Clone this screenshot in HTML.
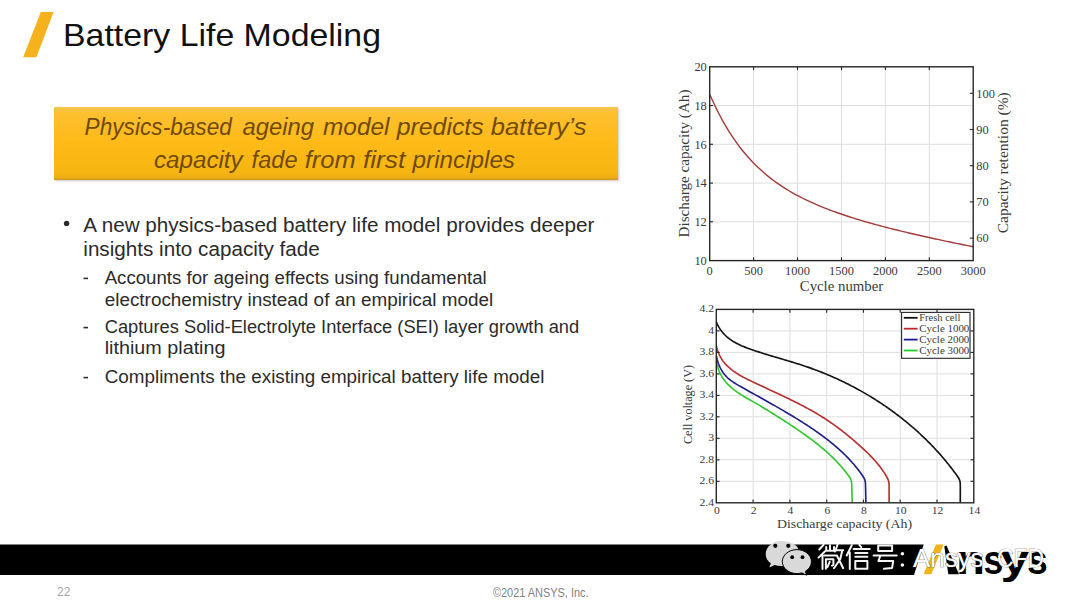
<!DOCTYPE html>
<html><head><meta charset="utf-8"><style>
html,body{margin:0;padding:0;background:#fff;width:1080px;height:608px;overflow:hidden;}
svg{display:block;}
</style></head><body>
<svg width="1080" height="608" viewBox="0 0 1080 608">
<rect width="1080" height="608" fill="#fff"/>
<polygon points="40.8,12 53.6,12 36.4,57.2 23.2,57.2" fill="#F6B21C"/>
<text x="63" y="46" font-family='"Liberation Sans", sans-serif' font-size="31.5" fill="#111" textLength="318" lengthAdjust="spacingAndGlyphs">Battery Life Modeling</text>
<defs><linearGradient id="og" x1="0" y1="0" x2="0" y2="1"><stop offset="0" stop-color="#F8C452"/><stop offset="0.08" stop-color="#FDC030"/><stop offset="0.5" stop-color="#FFBA17"/><stop offset="0.9" stop-color="#F6B512"/><stop offset="0.97" stop-color="#EDAE16"/><stop offset="1" stop-color="#C9961E"/></linearGradient><filter id="sh" x="-5%" y="-20%" width="110%" height="140%"><feGaussianBlur stdDeviation="1.2"/></filter></defs>
<rect x="55" y="109" width="564" height="72" fill="#a0a0a0" opacity="0.6" filter="url(#sh)"/>
<rect x="54" y="107" width="564" height="73" fill="url(#og)"/>
<text x="84.6" y="135.3" font-family='"Liberation Sans", sans-serif' font-style="italic" font-size="23" fill="#704A0A" textLength="147.3" lengthAdjust="spacingAndGlyphs">Physics-based</text>
<text x="242.5" y="135.3" font-family='"Liberation Sans", sans-serif' font-style="italic" font-size="23" fill="#704A0A" textLength="71.6" lengthAdjust="spacingAndGlyphs">ageing</text>
<text x="323.0" y="135.3" font-family='"Liberation Sans", sans-serif' font-style="italic" font-size="23" fill="#704A0A" textLength="66.5" lengthAdjust="spacingAndGlyphs">model</text>
<text x="396.7" y="135.3" font-family='"Liberation Sans", sans-serif' font-style="italic" font-size="23" fill="#704A0A" textLength="87.0" lengthAdjust="spacingAndGlyphs">predicts</text>
<text x="490.8" y="135.3" font-family='"Liberation Sans", sans-serif' font-style="italic" font-size="23" fill="#704A0A" textLength="95.7" lengthAdjust="spacingAndGlyphs">battery’s</text>
<text x="153.9" y="167.8" font-family='"Liberation Sans", sans-serif' font-style="italic" font-size="23" fill="#704A0A" textLength="88.8" lengthAdjust="spacingAndGlyphs">capacity</text>
<text x="251.6" y="167.8" font-family='"Liberation Sans", sans-serif' font-style="italic" font-size="23" fill="#704A0A" textLength="45.9" lengthAdjust="spacingAndGlyphs">fade</text>
<text x="304.7" y="167.8" font-family='"Liberation Sans", sans-serif' font-style="italic" font-size="23" fill="#704A0A" textLength="51.0" lengthAdjust="spacingAndGlyphs">from</text>
<text x="362.9" y="167.8" font-family='"Liberation Sans", sans-serif' font-style="italic" font-size="23" fill="#704A0A" textLength="42.5" lengthAdjust="spacingAndGlyphs">first</text>
<text x="412.6" y="167.8" font-family='"Liberation Sans", sans-serif' font-style="italic" font-size="23" fill="#704A0A" textLength="102.4" lengthAdjust="spacingAndGlyphs">principles</text>
<circle cx="66.6" cy="223.4" r="2.7" fill="#2b2b2b"/>
<text x="83.3" y="231.9" font-family='"Liberation Sans", sans-serif' font-size="20" fill="#2b2b2b" textLength="511" lengthAdjust="spacingAndGlyphs">A new physics-based battery life model provides deeper</text>
<text x="83.3" y="255.6" font-family='"Liberation Sans", sans-serif' font-size="20" fill="#2b2b2b" textLength="236.5" lengthAdjust="spacingAndGlyphs">insights into capacity fade</text>
<rect x="83.5" y="277.6" width="4.5" height="1.6" fill="#2b2b2b"/>
<text x="104.7" y="283.6" font-family='"Liberation Sans", sans-serif' font-size="17.5" fill="#2b2b2b" textLength="382" lengthAdjust="spacingAndGlyphs">Accounts for ageing effects using fundamental</text>
<text x="104.7" y="305.8" font-family='"Liberation Sans", sans-serif' font-size="17.5" fill="#2b2b2b" textLength="388.5" lengthAdjust="spacingAndGlyphs">electrochemistry instead of an empirical model</text>
<rect x="83.5" y="326.8" width="4.5" height="1.6" fill="#2b2b2b"/>
<text x="104.7" y="332.8" font-family='"Liberation Sans", sans-serif' font-size="17.5" fill="#2b2b2b" textLength="474.5" lengthAdjust="spacingAndGlyphs">Captures Solid-Electrolyte Interface (SEI) layer growth and</text>
<text x="104.7" y="354.4" font-family='"Liberation Sans", sans-serif' font-size="17.5" fill="#2b2b2b" textLength="120.8" lengthAdjust="spacingAndGlyphs">lithium plating</text>
<rect x="83.5" y="376.8" width="4.5" height="1.6" fill="#2b2b2b"/>
<text x="104.7" y="382.8" font-family='"Liberation Sans", sans-serif' font-size="17.5" fill="#2b2b2b" textLength="439.8" lengthAdjust="spacingAndGlyphs">Compliments the existing empirical battery life model</text>
<line x1="753.6" y1="66.8" x2="753.6" y2="260.6" stroke="#dedede" stroke-width="1"/>
<line x1="797.5" y1="66.8" x2="797.5" y2="260.6" stroke="#dedede" stroke-width="1"/>
<line x1="841.5" y1="66.8" x2="841.5" y2="260.6" stroke="#dedede" stroke-width="1"/>
<line x1="885.4" y1="66.8" x2="885.4" y2="260.6" stroke="#dedede" stroke-width="1"/>
<line x1="929.3" y1="66.8" x2="929.3" y2="260.6" stroke="#dedede" stroke-width="1"/>
<line x1="709.7" y1="221.8" x2="973.2" y2="221.8" stroke="#dedede" stroke-width="1"/>
<line x1="709.7" y1="183.1" x2="973.2" y2="183.1" stroke="#dedede" stroke-width="1"/>
<line x1="709.7" y1="144.3" x2="973.2" y2="144.3" stroke="#dedede" stroke-width="1"/>
<line x1="709.7" y1="105.6" x2="973.2" y2="105.6" stroke="#dedede" stroke-width="1"/>
<path d="M709.70,94.16 L711.91,99.19 L714.13,104.00 L716.34,108.61 L718.56,113.02 L720.77,117.24 L722.99,121.29 L725.20,125.17 L727.41,128.89 L729.63,132.45 L731.84,135.87 L734.06,139.15 L736.27,142.30 L738.49,145.33 L740.70,148.23 L742.91,151.02 L745.13,153.70 L747.34,156.28 L749.56,158.76 L751.77,161.15 L753.99,163.45 L756.20,165.66 L758.41,167.79 L760.63,169.85 L762.84,171.83 L765.06,173.74 L767.27,175.59 L769.49,177.37 L771.70,179.09 L773.91,180.76 L776.13,182.37 L778.34,183.93 L780.56,185.44 L782.77,186.90 L784.99,188.31 L787.20,189.69 L789.41,191.02 L791.63,192.31 L793.84,193.57 L796.06,194.79 L798.27,195.98 L800.49,197.13 L802.70,198.25 L804.91,199.35 L807.13,200.41 L809.34,201.45 L811.56,202.47 L813.77,203.46 L815.99,204.42 L818.20,205.37 L820.41,206.29 L822.63,207.19 L824.84,208.07 L827.06,208.94 L829.27,209.79 L831.49,210.62 L833.70,211.43 L835.91,212.23 L838.13,213.01 L840.34,213.78 L842.56,214.53 L844.77,215.28 L846.99,216.01 L849.20,216.73 L851.41,217.43 L853.63,218.13 L855.84,218.81 L858.06,219.49 L860.27,220.15 L862.49,220.81 L864.70,221.46 L866.91,222.10 L869.13,222.73 L871.34,223.35 L873.56,223.96 L875.77,224.57 L877.99,225.17 L880.20,225.77 L882.41,226.35 L884.63,226.93 L886.84,227.51 L889.06,228.08 L891.27,228.64 L893.49,229.20 L895.70,229.75 L897.91,230.30 L900.13,230.84 L902.34,231.38 L904.56,231.91 L906.77,232.44 L908.99,232.97 L911.20,233.49 L913.41,234.00 L915.63,234.51 L917.84,235.02 L920.06,235.53 L922.27,236.03 L924.49,236.52 L926.70,237.02 L928.91,237.51 L931.13,237.99 L933.34,238.48 L935.56,238.96 L937.77,239.44 L939.99,239.91 L942.20,240.38 L944.41,240.85 L946.63,241.32 L948.84,241.78 L951.06,242.24 L953.27,242.70 L955.49,243.15 L957.70,243.60 L959.91,244.05 L962.13,244.50 L964.34,244.94 L966.56,245.39 L968.77,245.83 L970.99,246.26 L973.20,246.70" fill="none" stroke="#A33C3C" stroke-width="1.4"/>
<line x1="753.6" y1="260.6" x2="753.6" y2="257.3" stroke="#262626" stroke-width="1.1"/>
<line x1="753.6" y1="66.8" x2="753.6" y2="70.1" stroke="#262626" stroke-width="1.1"/>
<line x1="797.5" y1="260.6" x2="797.5" y2="257.3" stroke="#262626" stroke-width="1.1"/>
<line x1="797.5" y1="66.8" x2="797.5" y2="70.1" stroke="#262626" stroke-width="1.1"/>
<line x1="841.5" y1="260.6" x2="841.5" y2="257.3" stroke="#262626" stroke-width="1.1"/>
<line x1="841.5" y1="66.8" x2="841.5" y2="70.1" stroke="#262626" stroke-width="1.1"/>
<line x1="885.4" y1="260.6" x2="885.4" y2="257.3" stroke="#262626" stroke-width="1.1"/>
<line x1="885.4" y1="66.8" x2="885.4" y2="70.1" stroke="#262626" stroke-width="1.1"/>
<line x1="929.3" y1="260.6" x2="929.3" y2="257.3" stroke="#262626" stroke-width="1.1"/>
<line x1="929.3" y1="66.8" x2="929.3" y2="70.1" stroke="#262626" stroke-width="1.1"/>
<line x1="709.7" y1="221.8" x2="713.0" y2="221.8" stroke="#262626" stroke-width="1.1"/>
<line x1="709.7" y1="183.1" x2="713.0" y2="183.1" stroke="#262626" stroke-width="1.1"/>
<line x1="709.7" y1="144.3" x2="713.0" y2="144.3" stroke="#262626" stroke-width="1.1"/>
<line x1="709.7" y1="105.6" x2="713.0" y2="105.6" stroke="#262626" stroke-width="1.1"/>
<line x1="973.2" y1="238.1" x2="969.9000000000001" y2="238.1" stroke="#262626" stroke-width="1.1"/>
<line x1="973.2" y1="201.9" x2="969.9000000000001" y2="201.9" stroke="#262626" stroke-width="1.1"/>
<line x1="973.2" y1="165.7" x2="969.9000000000001" y2="165.7" stroke="#262626" stroke-width="1.1"/>
<line x1="973.2" y1="129.5" x2="969.9000000000001" y2="129.5" stroke="#262626" stroke-width="1.1"/>
<line x1="973.2" y1="93.3" x2="969.9000000000001" y2="93.3" stroke="#262626" stroke-width="1.1"/>
<rect x="709.7" y="66.8" width="263.5" height="193.8" fill="none" stroke="#262626" stroke-width="1.4"/>
<text x="706.8" y="264.9" text-anchor="end" font-family='"Liberation Serif", serif' font-size="13" fill="#3a3a3a" textLength="12.4" lengthAdjust="spacingAndGlyphs">10</text>
<text x="706.8" y="226.1" text-anchor="end" font-family='"Liberation Serif", serif' font-size="13" fill="#3a3a3a" textLength="12.4" lengthAdjust="spacingAndGlyphs">12</text>
<text x="706.8" y="187.4" text-anchor="end" font-family='"Liberation Serif", serif' font-size="13" fill="#3a3a3a" textLength="12.4" lengthAdjust="spacingAndGlyphs">14</text>
<text x="706.8" y="148.6" text-anchor="end" font-family='"Liberation Serif", serif' font-size="13" fill="#3a3a3a" textLength="12.4" lengthAdjust="spacingAndGlyphs">16</text>
<text x="706.8" y="109.9" text-anchor="end" font-family='"Liberation Serif", serif' font-size="13" fill="#3a3a3a" textLength="12.4" lengthAdjust="spacingAndGlyphs">18</text>
<text x="706.8" y="71.1" text-anchor="end" font-family='"Liberation Serif", serif' font-size="13" fill="#3a3a3a" textLength="12.4" lengthAdjust="spacingAndGlyphs">20</text>
<text x="709.7" y="274.8" text-anchor="middle" font-family='"Liberation Serif", serif' font-size="13" fill="#3a3a3a" textLength="6.2" lengthAdjust="spacingAndGlyphs">0</text>
<text x="753.6" y="274.8" text-anchor="middle" font-family='"Liberation Serif", serif' font-size="13" fill="#3a3a3a" textLength="18.6" lengthAdjust="spacingAndGlyphs">500</text>
<text x="797.5" y="274.8" text-anchor="middle" font-family='"Liberation Serif", serif' font-size="13" fill="#3a3a3a" textLength="24.8" lengthAdjust="spacingAndGlyphs">1000</text>
<text x="841.5" y="274.8" text-anchor="middle" font-family='"Liberation Serif", serif' font-size="13" fill="#3a3a3a" textLength="24.8" lengthAdjust="spacingAndGlyphs">1500</text>
<text x="885.4" y="274.8" text-anchor="middle" font-family='"Liberation Serif", serif' font-size="13" fill="#3a3a3a" textLength="24.8" lengthAdjust="spacingAndGlyphs">2000</text>
<text x="929.3" y="274.8" text-anchor="middle" font-family='"Liberation Serif", serif' font-size="13" fill="#3a3a3a" textLength="24.8" lengthAdjust="spacingAndGlyphs">2500</text>
<text x="973.2" y="274.8" text-anchor="middle" font-family='"Liberation Serif", serif' font-size="13" fill="#3a3a3a" textLength="24.8" lengthAdjust="spacingAndGlyphs">3000</text>
<text x="976.3" y="242.4" font-family='"Liberation Serif", serif' font-size="13" fill="#3a3a3a" textLength="12.4" lengthAdjust="spacingAndGlyphs">60</text>
<text x="976.3" y="206.2" font-family='"Liberation Serif", serif' font-size="13" fill="#3a3a3a" textLength="12.4" lengthAdjust="spacingAndGlyphs">70</text>
<text x="976.3" y="170.0" font-family='"Liberation Serif", serif' font-size="13" fill="#3a3a3a" textLength="12.4" lengthAdjust="spacingAndGlyphs">80</text>
<text x="976.3" y="133.8" font-family='"Liberation Serif", serif' font-size="13" fill="#3a3a3a" textLength="12.4" lengthAdjust="spacingAndGlyphs">90</text>
<text x="976.3" y="97.6" font-family='"Liberation Serif", serif' font-size="13" fill="#3a3a3a" textLength="18.6" lengthAdjust="spacingAndGlyphs">100</text>
<text x="841.5" y="291" text-anchor="middle" font-family='"Liberation Serif", serif' font-size="14" fill="#3a3a3a" textLength="83.5" lengthAdjust="spacingAndGlyphs">Cycle number</text>
<text transform="translate(688.5,163.5) rotate(-90)" x="0" y="0" text-anchor="middle" font-family='"Liberation Serif", serif' font-size="14" fill="#3a3a3a" textLength="148" lengthAdjust="spacingAndGlyphs">Discharge capacity (Ah)</text>
<text transform="translate(1008.3,162.8) rotate(-90)" x="0" y="0" text-anchor="middle" font-family='"Liberation Serif", serif' font-size="14.5" fill="#3a3a3a" textLength="141" lengthAdjust="spacingAndGlyphs">Capacity retention (%)</text>
<line x1="753.1" y1="309.4" x2="753.1" y2="502.8" stroke="#dedede" stroke-width="1"/>
<line x1="789.9" y1="309.4" x2="789.9" y2="502.8" stroke="#dedede" stroke-width="1"/>
<line x1="826.7" y1="309.4" x2="826.7" y2="502.8" stroke="#dedede" stroke-width="1"/>
<line x1="863.4" y1="309.4" x2="863.4" y2="502.8" stroke="#dedede" stroke-width="1"/>
<line x1="900.2" y1="309.4" x2="900.2" y2="502.8" stroke="#dedede" stroke-width="1"/>
<line x1="937.0" y1="309.4" x2="937.0" y2="502.8" stroke="#dedede" stroke-width="1"/>
<line x1="716.3" y1="481.3" x2="973.8" y2="481.3" stroke="#dedede" stroke-width="1"/>
<line x1="716.3" y1="459.8" x2="973.8" y2="459.8" stroke="#dedede" stroke-width="1"/>
<line x1="716.3" y1="438.3" x2="973.8" y2="438.3" stroke="#dedede" stroke-width="1"/>
<line x1="716.3" y1="416.8" x2="973.8" y2="416.8" stroke="#dedede" stroke-width="1"/>
<line x1="716.3" y1="395.4" x2="973.8" y2="395.4" stroke="#dedede" stroke-width="1"/>
<line x1="716.3" y1="373.9" x2="973.8" y2="373.9" stroke="#dedede" stroke-width="1"/>
<line x1="716.3" y1="352.4" x2="973.8" y2="352.4" stroke="#dedede" stroke-width="1"/>
<line x1="716.3" y1="330.9" x2="973.8" y2="330.9" stroke="#dedede" stroke-width="1"/>
<path d="M716.50,361.60 L716.77,363.16 L717.07,364.60 L717.43,366.02 L717.84,367.44 L718.31,368.86 L718.82,370.27 L719.39,371.65 L720.00,373.02 L720.67,374.36 L721.38,375.67 L722.15,376.96 L722.96,378.22 L723.81,379.45 L724.71,380.65 L725.65,381.81 L726.62,382.95 L727.63,384.06 L728.68,385.13 L729.75,386.18 L730.85,387.19 L731.98,388.18 L733.14,389.13 L734.31,390.06 L735.51,390.96 L736.73,391.84 L737.96,392.69 L739.21,393.52 L740.47,394.34 L741.74,395.13 L743.02,395.91 L744.31,396.68 L745.61,397.43 L746.91,398.18 L748.21,398.92 L749.51,399.66 L750.82,400.40 L752.12,401.14 L753.43,401.89 L754.73,402.63 L756.03,403.38 L757.32,404.14 L758.61,404.90 L759.91,405.66 L761.19,406.43 L762.48,407.20 L763.76,407.98 L765.05,408.76 L766.33,409.54 L767.60,410.32 L768.88,411.11 L770.16,411.90 L771.43,412.70 L772.70,413.49 L773.97,414.29 L775.24,415.09 L776.51,415.89 L777.77,416.69 L779.04,417.50 L780.31,418.30 L781.57,419.11 L782.83,419.92 L784.09,420.73 L785.36,421.54 L786.61,422.36 L787.87,423.18 L789.13,424.00 L790.38,424.82 L791.64,425.64 L792.89,426.47 L794.14,427.30 L795.38,428.14 L796.63,428.98 L797.87,429.82 L799.10,430.67 L800.34,431.52 L801.57,432.37 L802.80,433.23 L804.03,434.10 L805.25,434.97 L806.47,435.84 L807.68,436.72 L808.89,437.61 L810.10,438.50 L811.30,439.40 L812.50,440.30 L813.69,441.21 L814.87,442.13 L816.06,443.05 L817.23,443.98 L818.40,444.92 L819.57,445.87 L820.73,446.82 L821.88,447.78 L823.02,448.75 L824.16,449.72 L825.30,450.71 L826.42,451.70 L827.54,452.70 L828.65,453.71 L829.75,454.73 L830.84,455.76 L831.92,456.79 L833.00,457.84 L834.06,458.89 L835.12,459.96 L836.17,461.03 L837.20,462.12 L838.23,463.21 L839.25,464.32 L840.25,465.43 L841.24,466.55 L842.22,467.69 L843.19,468.83 L844.15,469.99 L845.09,471.15 L846.02,472.33 L846.94,473.52 L847.84,474.71 L848.72,475.93 L849.56,477.16 L850.31,478.42 L850.91,479.73 L851.32,481.11 L851.56,482.55 L851.68,484.02 L851.74,485.51 L851.79,487.01 L851.83,488.51 L851.86,490.01 L851.90,491.51 L851.94,493.01 L851.98,494.51 L852.02,496.00 L852.06,497.48 L852.10,498.91 L852.13,500.21 L852.16,501.24 L852.19,502.50" fill="none" stroke="#30C830" stroke-width="1.65"/>
<path d="M716.50,356.20 L716.79,357.76 L717.11,359.19 L717.49,360.61 L717.92,362.02 L718.41,363.44 L718.93,364.84 L719.51,366.22 L720.14,367.57 L720.83,368.90 L721.57,370.20 L722.36,371.47 L723.21,372.71 L724.11,373.90 L725.05,375.06 L726.05,376.18 L727.10,377.25 L728.18,378.27 L729.32,379.25 L730.48,380.19 L731.69,381.08 L732.91,381.94 L734.17,382.76 L735.44,383.56 L736.72,384.34 L738.01,385.09 L739.31,385.84 L740.62,386.58 L741.92,387.32 L743.23,388.05 L744.54,388.78 L745.85,389.52 L747.16,390.25 L748.47,390.98 L749.78,391.71 L751.09,392.44 L752.40,393.17 L753.71,393.90 L755.02,394.63 L756.33,395.36 L757.64,396.09 L758.95,396.82 L760.26,397.55 L761.57,398.28 L762.88,399.02 L764.19,399.75 L765.50,400.48 L766.81,401.22 L768.11,401.95 L769.42,402.69 L770.72,403.43 L772.03,404.17 L773.33,404.91 L774.64,405.65 L775.94,406.40 L777.24,407.14 L778.54,407.89 L779.84,408.64 L781.14,409.40 L782.43,410.15 L783.73,410.91 L785.02,411.67 L786.31,412.43 L787.61,413.19 L788.89,413.96 L790.18,414.73 L791.47,415.50 L792.75,416.27 L794.04,417.05 L795.32,417.83 L796.59,418.62 L797.87,419.40 L799.15,420.19 L800.42,420.99 L801.69,421.79 L802.95,422.59 L804.22,423.40 L805.48,424.21 L806.74,425.02 L808.00,425.84 L809.25,426.67 L810.50,427.50 L811.74,428.34 L812.99,429.18 L814.22,430.02 L815.46,430.87 L816.69,431.73 L817.91,432.60 L819.14,433.47 L820.35,434.34 L821.57,435.22 L822.77,436.11 L823.98,437.01 L825.18,437.91 L826.37,438.82 L827.55,439.74 L828.73,440.67 L829.91,441.60 L831.08,442.54 L832.24,443.49 L833.40,444.44 L834.54,445.41 L835.69,446.38 L836.82,447.36 L837.95,448.35 L839.07,449.35 L840.18,450.36 L841.28,451.37 L842.38,452.40 L843.46,453.43 L844.54,454.48 L845.61,455.53 L846.66,456.59 L847.71,457.67 L848.75,458.75 L849.78,459.84 L850.79,460.95 L851.80,462.06 L852.79,463.18 L853.78,464.31 L854.75,465.46 L855.71,466.61 L856.65,467.77 L857.59,468.95 L858.51,470.13 L859.41,471.33 L860.31,472.53 L861.18,473.75 L862.05,474.97 L862.88,476.21 L863.67,477.47 L864.35,478.77 L864.87,480.12 L865.21,481.52 L865.39,482.98 L865.48,484.46 L865.53,485.95 L865.56,487.45 L865.60,488.95 L865.63,490.45 L865.66,491.95 L865.70,493.45 L865.73,494.95 L865.76,496.44 L865.79,497.91 L865.82,499.31 L865.85,500.53 L865.89,502.45 L865.89,502.45" fill="none" stroke="#20208a" stroke-width="1.65"/>
<path d="M716.50,346.20 L716.84,347.75 L717.22,349.17 L717.66,350.57 L718.15,351.96 L718.70,353.35 L719.30,354.72 L719.95,356.07 L720.66,357.39 L721.42,358.67 L722.23,359.93 L723.10,361.15 L724.01,362.34 L724.97,363.49 L725.97,364.60 L727.00,365.68 L728.08,366.73 L729.19,367.73 L730.33,368.71 L731.49,369.65 L732.68,370.56 L733.89,371.44 L735.13,372.29 L736.38,373.12 L737.65,373.92 L738.93,374.70 L740.22,375.46 L741.53,376.19 L742.84,376.92 L744.16,377.62 L745.49,378.31 L746.83,378.99 L748.17,379.66 L749.52,380.33 L750.87,380.98 L752.22,381.63 L753.57,382.28 L754.93,382.92 L756.28,383.56 L757.64,384.20 L759.00,384.84 L760.36,385.47 L761.72,386.11 L763.08,386.74 L764.44,387.37 L765.80,388.00 L767.16,388.63 L768.52,389.26 L769.88,389.90 L771.24,390.53 L772.60,391.16 L773.96,391.79 L775.32,392.42 L776.68,393.05 L778.04,393.69 L779.40,394.33 L780.76,394.96 L782.12,395.60 L783.47,396.24 L784.83,396.89 L786.18,397.54 L787.53,398.18 L788.88,398.84 L790.23,399.49 L791.58,400.15 L792.93,400.81 L794.27,401.48 L795.61,402.15 L796.95,402.82 L798.29,403.50 L799.63,404.18 L800.96,404.87 L802.29,405.57 L803.62,406.26 L804.94,406.97 L806.26,407.68 L807.58,408.39 L808.90,409.11 L810.21,409.84 L811.52,410.58 L812.82,411.32 L814.12,412.06 L815.42,412.82 L816.71,413.58 L818.00,414.35 L819.28,415.13 L820.56,415.91 L821.83,416.70 L823.10,417.50 L824.36,418.31 L825.62,419.13 L826.87,419.95 L828.12,420.78 L829.36,421.62 L830.60,422.47 L831.83,423.33 L833.06,424.19 L834.28,425.06 L835.50,425.94 L836.71,426.83 L837.91,427.72 L839.11,428.62 L840.31,429.53 L841.50,430.44 L842.69,431.36 L843.87,432.28 L845.04,433.21 L846.21,434.15 L847.38,435.09 L848.54,436.04 L849.70,436.99 L850.85,437.95 L852.00,438.92 L853.15,439.89 L854.28,440.86 L855.42,441.84 L856.55,442.83 L857.68,443.82 L858.80,444.81 L859.92,445.81 L861.03,446.82 L862.14,447.83 L863.24,448.84 L864.34,449.87 L865.43,450.90 L866.52,451.93 L867.59,452.98 L868.66,454.03 L869.72,455.10 L870.77,456.17 L871.80,457.25 L872.83,458.34 L873.85,459.44 L874.85,460.56 L875.84,461.69 L876.82,462.82 L877.78,463.97 L878.73,465.14 L879.66,466.32 L880.57,467.51 L881.46,468.71 L882.33,469.93 L883.19,471.16 L884.02,472.41 L884.83,473.67 L885.62,474.95 L886.38,476.24 L887.10,477.55 L887.76,478.88 L888.31,480.24 L888.71,481.64 L888.94,483.09 L889.05,484.56 L889.09,486.05 L889.10,487.55 L889.10,489.05 L889.10,490.55 L889.10,492.05 L889.10,493.55 L889.10,495.05 L889.10,496.54 L889.10,498.01 L889.10,499.41 L889.10,500.63 L889.10,502.55 L889.10,502.55" fill="none" stroke="#B83030" stroke-width="1.65"/>
<path d="M716.50,322.30 L717.12,323.76 L717.75,325.08 L718.44,326.38 L719.19,327.66 L719.99,328.92 L720.83,330.15 L721.72,331.35 L722.66,332.52 L723.65,333.64 L724.68,334.73 L725.75,335.77 L726.87,336.77 L728.01,337.74 L729.19,338.66 L730.40,339.54 L731.64,340.39 L732.90,341.20 L734.18,341.97 L735.49,342.71 L736.81,343.42 L738.14,344.10 L739.49,344.75 L740.85,345.38 L742.22,345.99 L743.61,346.57 L744.99,347.13 L746.39,347.68 L747.79,348.21 L749.20,348.73 L750.61,349.24 L752.03,349.73 L753.45,350.22 L754.87,350.70 L756.29,351.18 L757.72,351.65 L759.14,352.11 L760.57,352.57 L762.00,353.02 L763.43,353.47 L764.86,353.92 L766.30,354.36 L767.73,354.80 L769.17,355.23 L770.60,355.67 L772.04,356.10 L773.48,356.53 L774.91,356.96 L776.35,357.38 L777.79,357.81 L779.23,358.23 L780.67,358.66 L782.11,359.08 L783.54,359.51 L784.98,359.93 L786.42,360.36 L787.86,360.79 L789.29,361.22 L790.73,361.65 L792.17,362.09 L793.60,362.53 L795.03,362.97 L796.47,363.42 L797.90,363.86 L799.33,364.32 L800.75,364.78 L802.18,365.24 L803.61,365.71 L805.03,366.18 L806.45,366.66 L807.87,367.15 L809.29,367.64 L810.70,368.14 L812.11,368.65 L813.52,369.16 L814.93,369.68 L816.33,370.21 L817.74,370.74 L819.14,371.28 L820.53,371.82 L821.93,372.37 L823.32,372.93 L824.71,373.50 L826.10,374.07 L827.48,374.64 L828.86,375.23 L830.24,375.82 L831.62,376.41 L832.99,377.02 L834.36,377.63 L835.73,378.24 L837.10,378.86 L838.46,379.49 L839.82,380.13 L841.17,380.77 L842.53,381.41 L843.88,382.07 L845.22,382.73 L846.57,383.39 L847.91,384.06 L849.25,384.74 L850.58,385.42 L851.91,386.11 L853.24,386.81 L854.57,387.51 L855.89,388.22 L857.21,388.94 L858.52,389.66 L859.84,390.38 L861.15,391.12 L862.45,391.86 L863.75,392.60 L865.05,393.35 L866.35,394.11 L867.64,394.87 L868.93,395.64 L870.21,396.42 L871.49,397.20 L872.77,397.98 L874.04,398.78 L875.31,399.58 L876.57,400.38 L877.84,401.19 L879.09,402.01 L880.35,402.83 L881.60,403.66 L882.85,404.50 L884.09,405.34 L885.33,406.18 L886.56,407.03 L887.79,407.89 L889.02,408.76 L890.24,409.63 L891.46,410.50 L892.67,411.38 L893.88,412.27 L895.08,413.16 L896.29,414.06 L897.48,414.97 L898.67,415.88 L899.86,416.79 L901.04,417.72 L902.22,418.64 L903.40,419.58 L904.57,420.52 L905.73,421.46 L906.89,422.41 L908.05,423.37 L909.20,424.33 L910.34,425.30 L911.49,426.27 L912.62,427.25 L913.75,428.24 L914.88,429.23 L916.00,430.22 L917.12,431.22 L918.23,432.23 L919.33,433.25 L920.44,434.26 L921.53,435.29 L922.62,436.32 L923.71,437.35 L924.79,438.39 L925.86,439.44 L926.93,440.49 L927.99,441.55 L929.05,442.61 L930.10,443.68 L931.15,444.76 L932.19,445.84 L933.23,446.92 L934.26,448.01 L935.28,449.11 L936.30,450.21 L937.31,451.32 L938.32,452.43 L939.32,453.55 L940.31,454.67 L941.30,455.80 L942.28,456.93 L943.26,458.07 L944.23,459.21 L945.19,460.36 L946.15,461.52 L947.10,462.68 L948.05,463.84 L948.98,465.01 L949.91,466.19 L950.84,467.37 L951.76,468.56 L952.67,469.75 L953.57,470.94 L954.47,472.15 L955.36,473.35 L956.25,474.56 L957.12,475.78 L957.96,477.01 L958.74,478.26 L959.40,479.56 L959.86,480.91 L960.13,482.33 L960.25,483.79 L960.29,485.28 L960.30,486.77 L960.30,488.27 L960.30,489.77 L960.30,491.27 L960.30,492.77 L960.30,494.27 L960.30,495.77 L960.30,497.26 L960.30,498.72 L960.30,500.07 L960.30,501.20 L960.30,502.77" fill="none" stroke="#151515" stroke-width="1.65"/>
<line x1="753.1" y1="502.8" x2="753.1" y2="499.5" stroke="#262626" stroke-width="1.1"/>
<line x1="753.1" y1="309.4" x2="753.1" y2="312.7" stroke="#262626" stroke-width="1.1"/>
<line x1="789.9" y1="502.8" x2="789.9" y2="499.5" stroke="#262626" stroke-width="1.1"/>
<line x1="789.9" y1="309.4" x2="789.9" y2="312.7" stroke="#262626" stroke-width="1.1"/>
<line x1="826.7" y1="502.8" x2="826.7" y2="499.5" stroke="#262626" stroke-width="1.1"/>
<line x1="826.7" y1="309.4" x2="826.7" y2="312.7" stroke="#262626" stroke-width="1.1"/>
<line x1="863.4" y1="502.8" x2="863.4" y2="499.5" stroke="#262626" stroke-width="1.1"/>
<line x1="863.4" y1="309.4" x2="863.4" y2="312.7" stroke="#262626" stroke-width="1.1"/>
<line x1="900.2" y1="502.8" x2="900.2" y2="499.5" stroke="#262626" stroke-width="1.1"/>
<line x1="900.2" y1="309.4" x2="900.2" y2="312.7" stroke="#262626" stroke-width="1.1"/>
<line x1="937.0" y1="502.8" x2="937.0" y2="499.5" stroke="#262626" stroke-width="1.1"/>
<line x1="937.0" y1="309.4" x2="937.0" y2="312.7" stroke="#262626" stroke-width="1.1"/>
<line x1="716.3" y1="481.3" x2="719.5999999999999" y2="481.3" stroke="#262626" stroke-width="1.1"/>
<line x1="973.8" y1="481.3" x2="970.5" y2="481.3" stroke="#262626" stroke-width="1.1"/>
<line x1="716.3" y1="459.8" x2="719.5999999999999" y2="459.8" stroke="#262626" stroke-width="1.1"/>
<line x1="973.8" y1="459.8" x2="970.5" y2="459.8" stroke="#262626" stroke-width="1.1"/>
<line x1="716.3" y1="438.3" x2="719.5999999999999" y2="438.3" stroke="#262626" stroke-width="1.1"/>
<line x1="973.8" y1="438.3" x2="970.5" y2="438.3" stroke="#262626" stroke-width="1.1"/>
<line x1="716.3" y1="416.8" x2="719.5999999999999" y2="416.8" stroke="#262626" stroke-width="1.1"/>
<line x1="973.8" y1="416.8" x2="970.5" y2="416.8" stroke="#262626" stroke-width="1.1"/>
<line x1="716.3" y1="395.4" x2="719.5999999999999" y2="395.4" stroke="#262626" stroke-width="1.1"/>
<line x1="973.8" y1="395.4" x2="970.5" y2="395.4" stroke="#262626" stroke-width="1.1"/>
<line x1="716.3" y1="373.9" x2="719.5999999999999" y2="373.9" stroke="#262626" stroke-width="1.1"/>
<line x1="973.8" y1="373.9" x2="970.5" y2="373.9" stroke="#262626" stroke-width="1.1"/>
<line x1="716.3" y1="352.4" x2="719.5999999999999" y2="352.4" stroke="#262626" stroke-width="1.1"/>
<line x1="973.8" y1="352.4" x2="970.5" y2="352.4" stroke="#262626" stroke-width="1.1"/>
<line x1="716.3" y1="330.9" x2="719.5999999999999" y2="330.9" stroke="#262626" stroke-width="1.1"/>
<line x1="973.8" y1="330.9" x2="970.5" y2="330.9" stroke="#262626" stroke-width="1.1"/>
<rect x="716.3" y="309.4" width="257.5" height="193.4" fill="none" stroke="#262626" stroke-width="1.4"/>
<rect x="901.6" y="312.4" width="68.4" height="45.9" fill="#fff" stroke="#262626" stroke-width="1.1"/>
<line x1="903.8" y1="317.8" x2="917.6" y2="317.8" stroke="#111" stroke-width="1.8"/>
<text x="919.3" y="321.1" font-family='"Liberation Serif", serif' font-size="10" fill="#3a3a3a" textLength="41" lengthAdjust="spacingAndGlyphs">Fresh cell</text>
<line x1="903.8" y1="328.7" x2="917.6" y2="328.7" stroke="#C02828" stroke-width="1.8"/>
<text x="919.3" y="332.0" font-family='"Liberation Serif", serif' font-size="10" fill="#3a3a3a" textLength="50" lengthAdjust="spacingAndGlyphs">Cycle 1000</text>
<line x1="903.8" y1="339.6" x2="917.6" y2="339.6" stroke="#1a1a8c" stroke-width="1.8"/>
<text x="919.3" y="342.9" font-family='"Liberation Serif", serif' font-size="10" fill="#3a3a3a" textLength="50" lengthAdjust="spacingAndGlyphs">Cycle 2000</text>
<line x1="903.8" y1="350.5" x2="917.6" y2="350.5" stroke="#22CC22" stroke-width="1.8"/>
<text x="919.3" y="353.8" font-family='"Liberation Serif", serif' font-size="10" fill="#3a3a3a" textLength="50" lengthAdjust="spacingAndGlyphs">Cycle 3000</text>
<text x="714" y="505.7" text-anchor="end" font-family='"Liberation Serif", serif' font-size="11.2" fill="#3a3a3a" textLength="14.6" lengthAdjust="spacingAndGlyphs">2.4</text>
<text x="714" y="484.2" text-anchor="end" font-family='"Liberation Serif", serif' font-size="11.2" fill="#3a3a3a" textLength="14.6" lengthAdjust="spacingAndGlyphs">2.6</text>
<text x="714" y="462.7" text-anchor="end" font-family='"Liberation Serif", serif' font-size="11.2" fill="#3a3a3a" textLength="14.6" lengthAdjust="spacingAndGlyphs">2.8</text>
<text x="714" y="441.2" text-anchor="end" font-family='"Liberation Serif", serif' font-size="11.2" fill="#3a3a3a" textLength="5.8" lengthAdjust="spacingAndGlyphs">3</text>
<text x="714" y="419.7" text-anchor="end" font-family='"Liberation Serif", serif' font-size="11.2" fill="#3a3a3a" textLength="14.6" lengthAdjust="spacingAndGlyphs">3.2</text>
<text x="714" y="398.3" text-anchor="end" font-family='"Liberation Serif", serif' font-size="11.2" fill="#3a3a3a" textLength="14.6" lengthAdjust="spacingAndGlyphs">3.4</text>
<text x="714" y="376.8" text-anchor="end" font-family='"Liberation Serif", serif' font-size="11.2" fill="#3a3a3a" textLength="14.6" lengthAdjust="spacingAndGlyphs">3.6</text>
<text x="714" y="355.3" text-anchor="end" font-family='"Liberation Serif", serif' font-size="11.2" fill="#3a3a3a" textLength="14.6" lengthAdjust="spacingAndGlyphs">3.8</text>
<text x="714" y="333.8" text-anchor="end" font-family='"Liberation Serif", serif' font-size="11.2" fill="#3a3a3a" textLength="5.8" lengthAdjust="spacingAndGlyphs">4</text>
<text x="714" y="312.3" text-anchor="end" font-family='"Liberation Serif", serif' font-size="11.2" fill="#3a3a3a" textLength="14.6" lengthAdjust="spacingAndGlyphs">4.2</text>
<text x="716.9" y="514.2" text-anchor="middle" font-family='"Liberation Serif", serif' font-size="11.2" fill="#3a3a3a" textLength="5.8" lengthAdjust="spacingAndGlyphs">0</text>
<text x="753.7" y="514.2" text-anchor="middle" font-family='"Liberation Serif", serif' font-size="11.2" fill="#3a3a3a" textLength="5.8" lengthAdjust="spacingAndGlyphs">2</text>
<text x="790.5" y="514.2" text-anchor="middle" font-family='"Liberation Serif", serif' font-size="11.2" fill="#3a3a3a" textLength="5.8" lengthAdjust="spacingAndGlyphs">4</text>
<text x="827.3" y="514.2" text-anchor="middle" font-family='"Liberation Serif", serif' font-size="11.2" fill="#3a3a3a" textLength="5.8" lengthAdjust="spacingAndGlyphs">6</text>
<text x="864.0" y="514.2" text-anchor="middle" font-family='"Liberation Serif", serif' font-size="11.2" fill="#3a3a3a" textLength="5.8" lengthAdjust="spacingAndGlyphs">8</text>
<text x="900.8" y="514.2" text-anchor="middle" font-family='"Liberation Serif", serif' font-size="11.2" fill="#3a3a3a" textLength="11.6" lengthAdjust="spacingAndGlyphs">10</text>
<text x="937.6" y="514.2" text-anchor="middle" font-family='"Liberation Serif", serif' font-size="11.2" fill="#3a3a3a" textLength="11.6" lengthAdjust="spacingAndGlyphs">12</text>
<text x="974.4" y="514.2" text-anchor="middle" font-family='"Liberation Serif", serif' font-size="11.2" fill="#3a3a3a" textLength="11.6" lengthAdjust="spacingAndGlyphs">14</text>
<text x="844.5" y="527.5" text-anchor="middle" font-family='"Liberation Serif", serif' font-size="13" fill="#3a3a3a" textLength="135" lengthAdjust="spacingAndGlyphs">Discharge capacity (Ah)</text>
<text transform="translate(692,404.5) rotate(-90)" x="0" y="0" text-anchor="middle" font-family='"Liberation Serif", serif' font-size="13" fill="#3a3a3a" textLength="79" lengthAdjust="spacingAndGlyphs">Cell voltage (V)</text>
<polygon points="0,544.5 923.7,544.5 914,575 0,575" fill="#000"/>
<text x="57" y="595.7" font-family='"Liberation Sans", sans-serif' font-size="12" fill="#a6a6a6">22</text>
<text x="493" y="596.6" font-family='"Liberation Sans", sans-serif' font-size="12" fill="#7f7f7f" textLength="95.5" lengthAdjust="spacingAndGlyphs">©2021 ANSYS, Inc.</text>
<path d="M781.3,541 C772.5,541 765.7,547 765.7,554 C765.7,558.2 767.8,561.2 770.8,563.3 L769.4,567.6 L774.6,565 C776.7,565.6 778.9,566 781.3,566 C782.2,566 783,565.9 783.8,565.9 C783.4,564.7 783.2,563.5 783.2,562.2 C783.2,555.2 789.6,549.8 797.4,549.8 C797.9,549.8 798.3,549.8 798.7,549.9 C797.4,544.5 789.9,541 781.3,541 Z" fill="#d9d9d9"/>
<circle cx="775.3" cy="545.8" r="2.1" fill="#000"/><circle cx="788.3" cy="545.8" r="2.1" fill="#000"/>
<path d="M796.9,549.6 C788.8,549.6 782.3,555 782.3,561.6 C782.3,568.2 788.8,573.6 796.9,573.6 C798.6,573.6 800.3,573.3 801.8,572.9 L806.6,575.2 L805.4,571.3 C809,569.2 811.4,565.6 811.4,561.6 C811.4,555 804.9,549.6 796.9,549.6 Z" fill="#d9d9d9" stroke="#000" stroke-width="1"/>
<circle cx="792.2" cy="557.2" r="1.9" fill="#000"/><circle cx="802.5" cy="557.2" r="1.9" fill="#000"/>
<path d="M823.6,544.9 L819.3,549.5 M825.1,551.2 L818.5,557.6 M822.5,555.0 L822.5,569.1 M830.0,545.2 L830.0,550.7 M826.2,546.9 L826.2,550.7 L834.0,550.7 L834.0,546.9 M824.5,555.5 L836.9,555.5 M825.9,568.8 L825.9,559.3 L833.4,559.3 L833.4,564.8 L832.0,565.6 M829.7,561.9 L827.4,567.1 M837.5,544.9 L835.1,551.5 M836.0,550.2 L843.2,550.2 M842.1,551.2 L840.3,559.0 L834.0,568.2 M836.9,555.5 L843.2,568.2 M851.8,545.2 L846.7,555.5 M849.8,552.4 L849.8,569.1 M859.3,544.9 L861.3,547.2 M853.6,548.9 L869.7,548.9 M855.3,553.0 L867.4,553.0 M855.3,556.7 L867.4,556.7 M855.3,561.0 L867.4,561.0 L867.4,568.8 L855.3,568.8 L855.3,561.0 M878.2,545.5 L892.1,545.5 L892.1,551.1 L878.2,551.1 L878.2,545.5 M873.6,555.5 L896.7,555.5 M880.1,556.4 L878.4,561.0 L893.2,561.0 L892.1,567.9 L884.0,568.8 " fill="none" stroke="#f4f4f4" stroke-width="2" stroke-linecap="round" stroke-linejoin="round"/>
<circle cx="902.4" cy="553.8" r="1.8" fill="#f4f4f4"/><circle cx="902.4" cy="565" r="1.8" fill="#f4f4f4"/>
<polygon points="935.9,544.6 943.6,544.6 931.3,574.3 923.5,574.3" fill="#F3B41B"/>
<polygon points="944.3,546.5 946.5,545.6 959,574.3 948.3,574.3" fill="#000"/>
<text x="956.0" y="574.4" font-family='"Liberation Sans", sans-serif' font-weight="bold" font-size="40" fill="#000" textLength="29.0" lengthAdjust="spacingAndGlyphs">n</text>
<text x="983.5" y="574.4" font-family='"Liberation Sans", sans-serif' font-weight="bold" font-size="40" fill="#000" textLength="19.8" lengthAdjust="spacingAndGlyphs">s</text>
<text x="1000.5" y="574.4" font-family='"Liberation Sans", sans-serif' font-weight="bold" font-size="40" fill="#000" textLength="28.5" lengthAdjust="spacingAndGlyphs">y</text>
<text x="1027.0" y="574.4" font-family='"Liberation Sans", sans-serif' font-weight="bold" font-size="40" fill="#000" textLength="20.7" lengthAdjust="spacingAndGlyphs">s</text>
<text x="913" y="566.8" font-family='"Liberation Sans", sans-serif' font-size="25" fill="#fff" stroke="#555" stroke-width="0.7" paint-order="stroke" textLength="70.5" lengthAdjust="spacingAndGlyphs">Ansys</text>
<text x="997" y="566.8" font-family='"Liberation Sans", sans-serif' font-size="25" fill="#fff" stroke="#555" stroke-width="0.7" paint-order="stroke" textLength="47" lengthAdjust="spacingAndGlyphs">CFD</text>
</svg>
</body></html>
